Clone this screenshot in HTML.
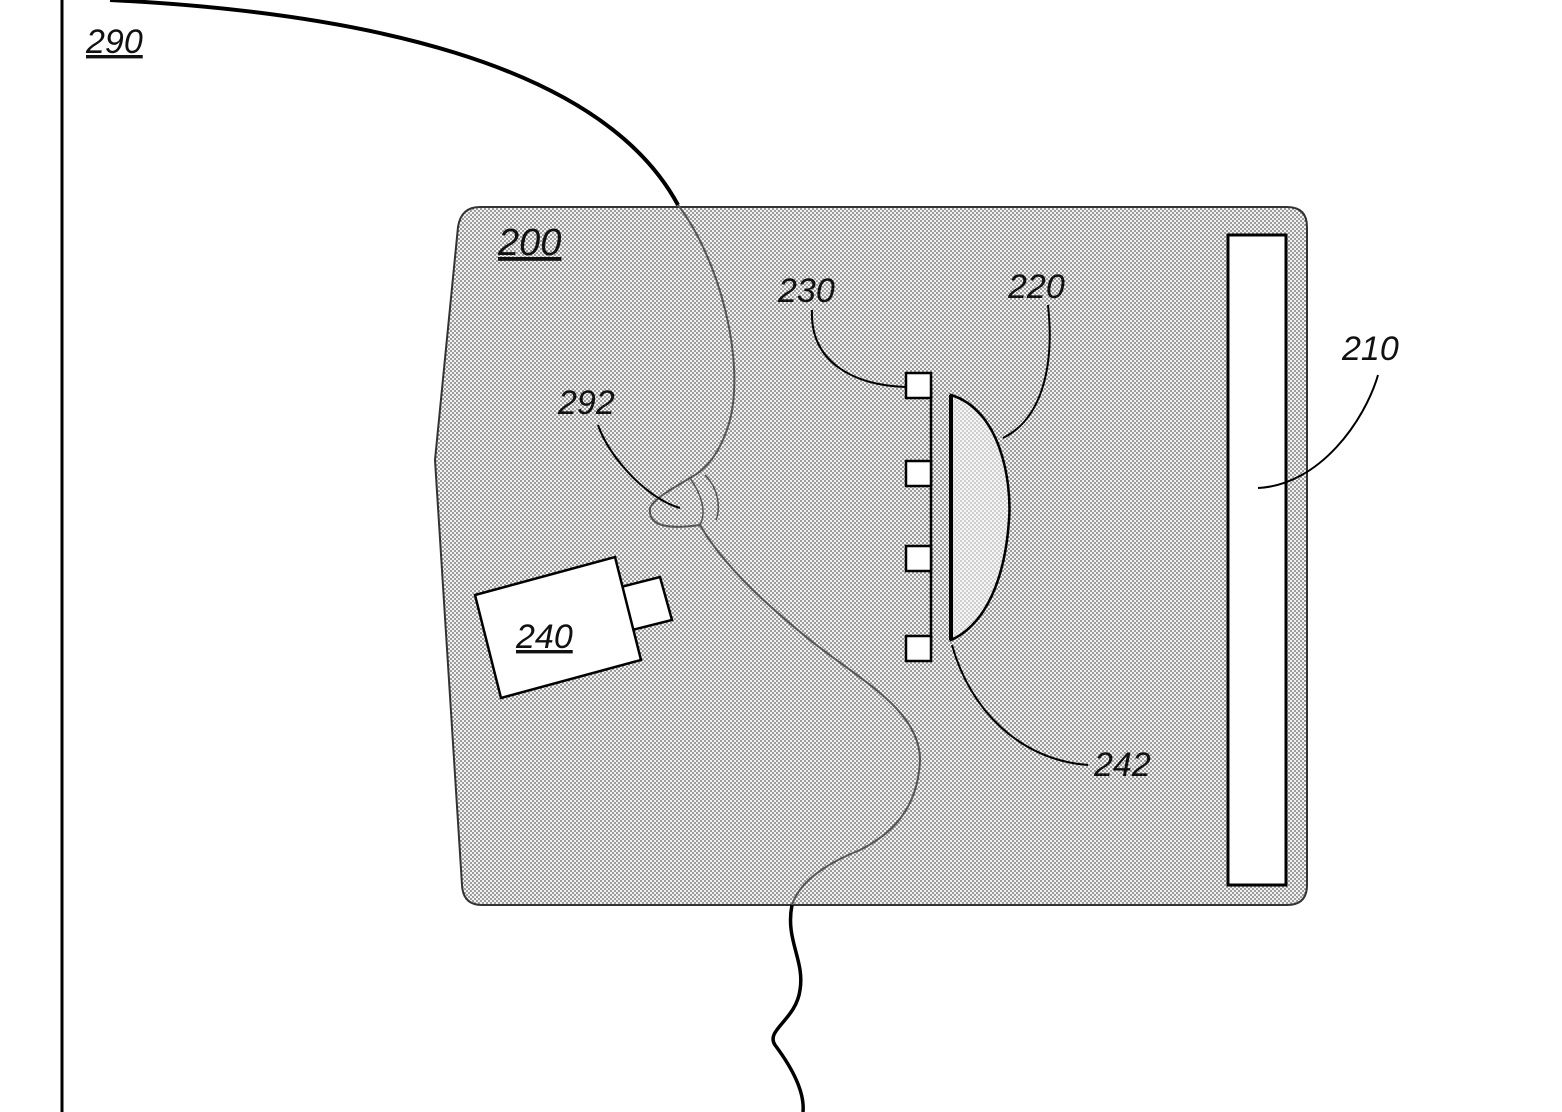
<!DOCTYPE html>
<html><head><meta charset="utf-8"><style>
html,body{margin:0;padding:0;background:#fff}
svg{display:block}
text{font-family:"Liberation Sans",sans-serif;font-style:italic;fill:#111}
</style></head><body>
<svg width="1562" height="1112" viewBox="0 0 1562 1112" xmlns="http://www.w3.org/2000/svg">
<defs>
<pattern id="dots" width="4" height="4" patternUnits="userSpaceOnUse">
<rect width="4" height="4" fill="#f2f2f2"/>
<circle cx="1" cy="1" r="0.95" fill="#7a7a7a"/>
<circle cx="3" cy="3" r="0.95" fill="#7a7a7a"/>
</pattern>
<pattern id="dots2" width="4" height="4" patternUnits="userSpaceOnUse">
<rect width="4" height="4" fill="#f6f6f6"/>
<circle cx="1" cy="1" r="0.75" fill="#999"/>
<circle cx="3" cy="3" r="0.75" fill="#999"/>
</pattern>
</defs>
<line x1="62" y1="0" x2="62" y2="1112" stroke="#000" stroke-width="3"/>
<path d="M480 207 L1287 207 Q1307 207 1307 227 L1307 885 Q1307 905 1287 905 L482 905 Q463 905 462 885 L435 460 L458 227 Q461 207 480 207 Z" fill="url(#dots)" stroke="#333" stroke-width="2"/>
<path d="M110 0 C350 12 600 60 678 205" fill="none" stroke="#000" stroke-width="4"/>
<path d="M678 205 C720 260 745 360 730 420 C720 455 705 470 690 478 C670 490 655 498 650 508 C648 525 665 530 700 525 C720 560 760 600 810 640 C860 680 920 710 920 760 C918 810 890 835 860 850 C830 862 800 880 792 905" fill="none" stroke="#555" stroke-width="2"/>
<path d="M690 478 C705 500 705 515 700 525 M705 475 C720 490 720 510 716 520" fill="none" stroke="#555" stroke-width="1.5"/>
<path d="M792 905 C785 940 805 960 800 990 C796 1020 765 1030 775 1045 C790 1065 805 1090 803 1112" fill="none" stroke="#000" stroke-width="3.5"/>
<rect x="1228" y="235" width="58" height="650" fill="#fff" stroke="#000" stroke-width="3"/>
<line x1="931" y1="385" x2="931" y2="650" stroke="#000" stroke-width="2.5"/>
<rect x="906" y="373" width="25" height="25" fill="#fff" stroke="#000" stroke-width="2.5"/>
<rect x="906" y="461" width="25" height="25" fill="#fff" stroke="#000" stroke-width="2.5"/>
<rect x="906" y="546" width="25" height="25" fill="#fff" stroke="#000" stroke-width="2.5"/>
<rect x="906" y="636" width="25" height="25" fill="#fff" stroke="#000" stroke-width="2.5"/>
<path d="M951 395 C1000 410 1012 480 1009 520 C1005 580 985 625 951 640 Z" fill="url(#dots2)" stroke="#000" stroke-width="2.5"/>
<line x1="951" y1="395" x2="951" y2="640" stroke="#000" stroke-width="4"/>
<polygon points="617,588 660,577 672,620 628,631" fill="#fff" stroke="#000" stroke-width="2.5"/>
<polygon points="475,595 615,557 641,660 501,698" fill="#fff" stroke="#000" stroke-width="2.5"/>
<path d="M906 387 C850 385 810 360 812 310" fill="none" stroke="#000" stroke-width="2"/>
<path d="M1003 438 C1040 420 1055 370 1048 305" fill="none" stroke="#000" stroke-width="2"/>
<path d="M1258 488 C1320 485 1365 420 1378 375" fill="none" stroke="#000" stroke-width="2"/>
<path d="M952 645 C970 710 1020 760 1088 765" fill="none" stroke="#000" stroke-width="2"/>
<path d="M598 425 C610 460 650 500 680 508" fill="none" stroke="#000" stroke-width="2"/>
<text x="86" y="53" font-size="34" text-decoration="underline">290</text>
<text x="498" y="255" font-size="38" text-decoration="underline">200</text>
<text x="778" y="302" font-size="34">230</text>
<text x="1008" y="298" font-size="34">220</text>
<text x="1342" y="360" font-size="34">210</text>
<text x="558" y="414" font-size="34">292</text>
<text x="516" y="648" font-size="34" text-decoration="underline">240</text>
<text x="1094" y="776" font-size="34">242</text>
</svg>
</body></html>
